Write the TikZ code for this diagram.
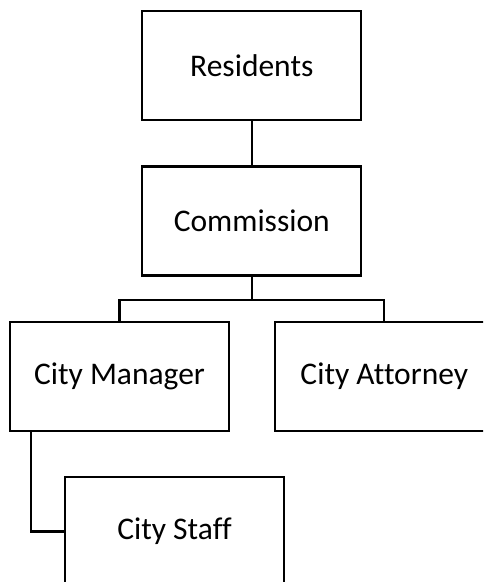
\documentclass[tikz,border=0pt]{standalone}
\usepackage{fontspec}
\setmainfont[Ligatures=NoCommon]{Carlito}
\begin{document}
\begin{tikzpicture}[x=1pt,y=-1pt,
  orgbox/.style={draw=black, line width=2.2pt, fill=white, minimum width=219pt,
    minimum height=109pt, inner sep=0pt, font=\fontsize{31.5}{38}\selectfont},
  link/.style={draw=black, line width=2.2pt}]
  \useasboundingbox (0,0) rectangle (483,582);
  \clip (0,0) rectangle (483,582);
  % boxes
  \node[orgbox] (res) at (251.8,65.8) {Residents};
  \node[orgbox] (com) at (251.8,221) {Commission};
  \node[orgbox] (cm)  at (119.5,376.5) {City Manager};
  \node[orgbox] (att) at (384.3,376.5) {City Attorney};
  \node[orgbox] (staff) at (174.5,531.5) {City Staff};
  % connectors
  \draw[link] (res.south) -- (com.north);
  \draw[link] (com.south) -- ++(0,23) coordinate (split);
  \draw[link] (cm.north) |- (split) -| (att.north);
  \draw[link] ([xshift=22.3pt]cm.south west) |- (staff.west);
\end{tikzpicture}
\end{document}
